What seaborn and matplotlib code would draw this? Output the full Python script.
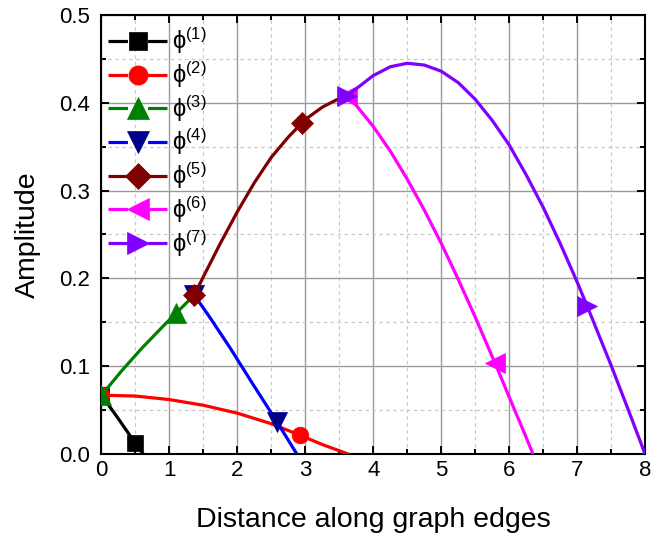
import matplotlib
matplotlib.use("Agg")
import matplotlib.pyplot as plt
from matplotlib.lines import Line2D
from matplotlib.ticker import MultipleLocator, FormatStrFormatter
import seaborn as sns

# ---- data ----
x1 = [0.0, 0.25, 0.50, 0.615]
y1 = [0.067, 0.040, 0.012, 0.0]

x2 = [0.0, 0.5, 1.0, 1.5, 2.0, 2.5, 2.92, 3.25, 3.63]
y2 = [0.067, 0.066, 0.062, 0.0555, 0.0465, 0.0345, 0.0215, 0.0108, 0.0]

x3 = [0.0, 0.3, 0.6, 0.9, 1.10, 1.366]
y3 = [0.067, 0.095, 0.121, 0.145, 0.1605, 0.181]

x4 = [1.366, 1.6, 1.9, 2.2, 2.58, 2.875]
y4 = [0.181, 0.155, 0.120, 0.083, 0.037, 0.0]

x5 = [1.366, 1.5, 1.75, 2.0, 2.25, 2.5, 2.75, 2.95, 3.0, 3.25, 3.45, 3.61]
y5 = [0.181, 0.202, 0.240, 0.276, 0.309, 0.338, 0.361, 0.377, 0.381, 0.395, 0.403, 0.408]

x6 = [3.61, 3.75, 4.0, 4.25, 4.5, 4.75, 5.0, 5.25, 5.5, 5.75, 5.79, 6.0, 6.25, 6.35]
y6 = [0.408, 0.397, 0.373, 0.345, 0.313, 0.278, 0.240, 0.199, 0.156, 0.111, 0.104, 0.065, 0.019, 0.0]

x7 = [3.61, 3.75, 4.0, 4.25, 4.5, 4.75, 5.0, 5.25, 5.5, 5.75, 6.0, 6.25, 6.5,
      6.75, 7.0, 7.15, 7.25, 7.5, 7.75, 8.0]
y7 = [0.408, 0.416, 0.431, 0.441, 0.445, 0.443, 0.436, 0.423, 0.404, 0.380, 0.352,
      0.318, 0.281, 0.240, 0.196, 0.168, 0.149, 0.101, 0.051, 0.0]

labels = ["(1)", "(2)", "(3)", "(4)", "(5)", "(6)", "(7)"]
series = [(x1, y1), (x2, y2), (x3, y3), (x4, y4), (x5, y5), (x6, y6), (x7, y7)]
marker_idx = [2, 6, 4, 4, 7, 10, 15]

line_colors = ["#000000", "#ff0000", "#008000", "#0000ff", "#800000", "#ff00ff", "#8000ff"]
face_colors = ["#000000", "#ff0000", "#008000", "#00008b", "#800000", "#ff00ff", "#8000ff"]
markers = ["s", "o", "^", "v", "D", "<", ">"]
msizes = [11.0, 12.0, 14.0, 14.0, 11.5, 14.0, 14.0]

sns.set_style("ticks")
plt.rcParams["font.family"] = ["Liberation Sans", "DejaVu Sans"]
plt.rcParams["mathtext.fontset"] = "custom"
plt.rcParams["mathtext.rm"] = "Liberation Sans"
plt.rcParams["mathtext.it"] = "Liberation Sans:italic"
plt.rcParams["text.color"] = "black"
plt.rcParams["axes.labelcolor"] = "black"
plt.rcParams["xtick.color"] = "black"
plt.rcParams["ytick.color"] = "black"
plt.rcParams["lines.scale_dashes"] = False

fig = plt.figure(figsize=(6.65, 5.33), dpi=100)
ax = fig.add_axes([0.1526, 0.1482, 0.970 - 0.1526, 0.9719 - 0.1482])

lw = 2.3
for i, (xs, ys) in enumerate(series):
    sns.lineplot(x=xs, y=ys, ax=ax, sort=False, estimator=None,
                 color=line_colors[i], lw=lw,
                 marker=markers[i], markevery=[0, marker_idx[i]],
                 ms=msizes[i], mfc=face_colors[i], mec=face_colors[i], mew=0.5,
                 zorder=3 + i)

ax.set_xlim(0, 8)
ax.set_ylim(0, 0.5)
ax.xaxis.set_major_locator(MultipleLocator(1))
ax.xaxis.set_minor_locator(MultipleLocator(0.5))
ax.yaxis.set_major_locator(MultipleLocator(0.1))
ax.yaxis.set_minor_locator(MultipleLocator(0.05))
ax.yaxis.set_major_formatter(FormatStrFormatter("%.1f"))

ax.grid(True, which="major", color="#9a9a9a", lw=1.0, ls="-", zorder=0)
ax.grid(True, which="minor", color="#c8c8c8", lw=0.9, ls=(0, (2.5, 2.5)), zorder=0)
ax.set_axisbelow(True)

ax.tick_params(which="both", direction="in", top=True, right=True, width=1.4)
ax.tick_params(which="major", length=5.8, labelsize=16)
ax.tick_params(axis="x", which="major", pad=4)
ax.tick_params(axis="y", which="major", pad=8)
ax.tick_params(which="minor", length=3.4)
for s in ax.spines.values():
    s.set_linewidth(1.5)
    s.set_color("black")

ax.set_xlabel("Distance along graph edges", fontsize=20.5, labelpad=19)
ax.set_ylabel("Amplitude", fontsize=20.5, labelpad=13)

# legend proxies: line segments with a gap around the marker
handles = []
for i in range(len(series)):
    handles.append(Line2D([], [], color=line_colors[i], lw=lw,
                          ls=(0, (14.0, 14.5, 20.0)),
                          marker=markers[i], ms=msizes[i] * 1.15,
                          mfc=face_colors[i], mec=face_colors[i], mew=0.5))
leg_labels = ["ϕ$^{\\mathregular{" + lab + "}}$" for lab in labels]
ax.legend(handles, leg_labels, loc="upper left", bbox_to_anchor=(0.012, 0.975),
          frameon=False, fontsize=17, handlelength=2.5, handletextpad=0.2,
          labelspacing=0.15, borderaxespad=0.0, borderpad=0.0)

fig.savefig("out.png", dpi=100)
